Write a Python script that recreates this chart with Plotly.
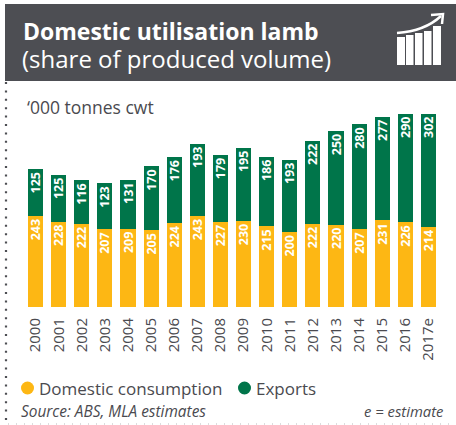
import plotly.graph_objects as go

years = ["2000","2001","2002","2003","2004","2005","2006","2007","2008","2009","2010","2011","2012","2013","2014","2015","2016","2017e"]
domestic = [243,228,222,207,209,205,224,243,227,230,215,200,222,220,207,231,226,214]
exports = [125,125,116,123,131,170,176,193,179,195,186,193,222,250,280,277,290,302]
series_names = ["Domestic consumption", "Exports"]

W, H = 456, 425
YEL, GRN, DARK, TXT = "#FDB714", "#00754A", "#4D4E53", "#4A4A4F"
FONT = "Open Sans"
def px(x): return x / W
def py(y): return 1 - y / H

fig = go.Figure()
for name, vals, col in [(series_names[0], domestic, YEL), (series_names[1], exports, GRN)]:
    fig.add_trace(go.Bar(x=years, y=vals, name=name, marker=dict(color=col, line_width=0), width=0.65,
                         text=vals, textposition="inside", insidetextanchor="end", textangle=-90,
                         textfont=dict(color="white", size=12.5, family=FONT, weight="bold"),
                         showlegend=False))

def circle(cx, cy, r, col):
    return dict(type="circle", xref="paper", yref="paper", x0=px(cx - r), x1=px(cx + r),
                y0=py(cy + r), y1=py(cy - r), fillcolor=col, line_width=0)

shapes = [
    dict(type="rect", xref="paper", yref="paper", x0=px(5), x1=px(456), y0=py(81), y1=py(4), fillcolor=DARK, line_width=0, layer="below"),
    dict(type="line", xref="paper", yref="paper", x0=px(6), x1=px(6), y0=py(82), y1=py(422), line=dict(color=DARK, width=2.2, dash="2px,6.4px")),
    dict(type="line", xref="paper", yref="paper", x0=px(8), x1=px(456), y0=py(424), y1=py(424), line=dict(color="#B9B9BB", width=1, dash="1px,7px")),
    circle(27.5, 388, 6.5, YEL),
    circle(244.5, 388, 6.5, GRN),
]
# header icon
for x0, x1, y0 in [(397, 405, 37), (406, 413.5, 35), (415, 422.5, 33), (424, 431.5, 31), (433, 441, 26)]:
    shapes.append(dict(type="rect", xref="paper", yref="paper", x0=px(x0), x1=px(x1), y0=py(65), y1=py(y0), fillcolor="white", line_width=0))
shapes.append(dict(type="path", xref="paper", yref="paper",
    path=f"M {px(397)},{py(33)} Q {px(425)},{py(31)} {px(441)},{py(16)}", line=dict(color="white", width=2.5)))
shapes.append(dict(type="path", xref="paper", yref="paper",
    path=f"M {px(431)},{py(15)} L {px(443)},{py(14)} L {px(442)},{py(24)}", line=dict(color="white", width=2.5)))

def note(text, x, y, size, anchor="left", style="normal", color=TXT, weight="normal"):
    return dict(text=text, xref="paper", yref="paper", x=px(x), y=py(y), xanchor=anchor, yanchor="middle",
                showarrow=False, font=dict(family=FONT, size=size, color=color, style=style, weight=weight))

anns = [
    note("Domestic utilisation lamb", 21, 31, 23, color="white", weight="bold"),
    note("(share of produced volume)", 20, 58, 24, color="white"),
    note("‘000 tonnes cwt", 25, 107, 17.5),
    note("Source: ABS, MLA estimates", 19, 411, 15.4, style="italic"),
    note("e = estimate", 445, 411, 14.8, anchor="right", style="italic"),
    note(series_names[0], 37, 388, 17),
    note(series_names[1], 254, 388, 17),
]

fig.update_layout(
    width=W, height=H, autosize=False, barmode="stack", bargap=0.35,
    paper_bgcolor="white", plot_bgcolor="rgba(0,0,0,0)", shapes=shapes, annotations=anns,
    margin=dict(l=0, r=0, t=0, b=0, pad=0), font=dict(family=FONT, color=TXT),
    uniformtext=dict(mode="show", minsize=12.5), showlegend=False,
    xaxis=dict(domain=[px(24), px(440)], type="category", tickangle=-90, showline=False, ticks="", showgrid=False,
               tickfont=dict(size=15, color=TXT, family=FONT), range=[-0.5, 17.5], ticklabelstandoff=7, automargin=False),
    yaxis=dict(domain=[py(307), py(112)], range=[0, 520], visible=False, showgrid=False, zeroline=False),
)
fig.write_html("out.html", post_script="document.body.style.margin='0';", config={"displayModeBar": False})
